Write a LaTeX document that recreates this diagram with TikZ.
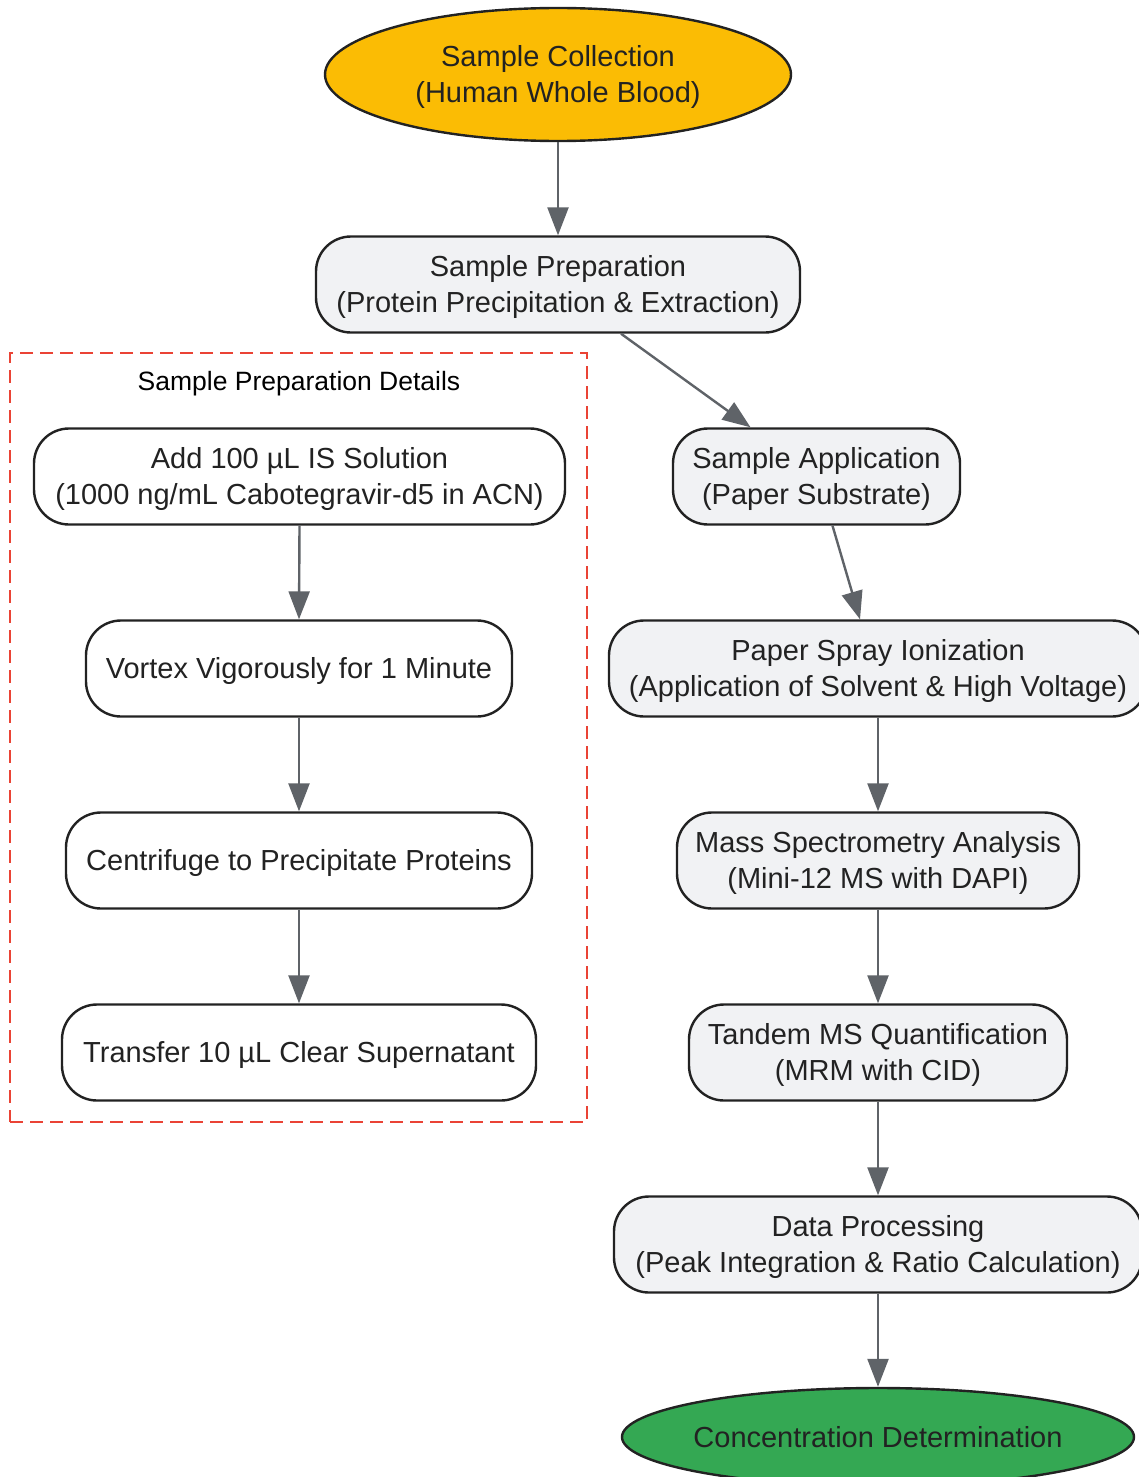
\documentclass[tikz,border=0pt]{standalone}
\usepackage{fontspec}
\setmainfont{Liberation Sans}
\usetikzlibrary{arrows.meta,shapes.geometric,calc}
\definecolor{ygold}{HTML}{FBBC04}
\definecolor{ggreen}{HTML}{34A853}
\definecolor{boxfill}{HTML}{F1F2F4}
\definecolor{edgegray}{HTML}{5F6368}
\definecolor{txt}{HTML}{222222}
\definecolor{dashred}{HTML}{EA4335}
\newcommand{\toplift}{\rule{0pt}{26.5pt}}
\tikzset{
  base/.style={draw=txt, line width=2.4pt, text=txt, inner sep=0pt, align=center,
    font=\fontsize{29}{36}\selectfont},
  lowered/.style={execute at begin node={\toplift}},
  procbox/.style={base, rectangle, rounded corners=35pt, fill=boxfill, minimum height=96pt},
  detailbox/.style={base, rectangle, rounded corners=35pt, fill=white, minimum height=96pt},
  terminal/.style={base, ellipse},
  flow/.style={draw=edgegray, line width=2.4pt, -{Triangle[length=28pt,width=21pt]}},
  grouplabel/.style={font=\fontsize{26.5}{32}\selectfont, text=black, inner sep=0pt}
}
\begin{document}
\begin{tikzpicture}[x=1pt,y=-1pt]
\useasboundingbox (0,0) rectangle (1139,1477);
\clip (0,0) rectangle (1139,1477);
\fill[white] (0,0) rectangle (1139,1477);
% group frame
\node[draw=dashred, line width=2.6pt, dash pattern=on 13pt off 7pt, minimum width=577pt, minimum height=769pt, inner sep=0pt] (grp) at (298.5,737.5) {};
\node[grouplabel] (grplabel) at (299,383.5) {Sample Preparation Details};
% main flow
\node[terminal, fill=ygold, minimum width=466pt, minimum height=133pt] (coll) at (558,74.5) {\toplift Sample Collection\\(Human Whole Blood)};
\node[procbox, minimum width=484pt] (prep) at (558,284.5) {\toplift Sample Preparation\\(Protein Precipitation \& Extraction)};
\node[procbox, minimum width=287pt] (app) at (816.5,476.5) {\toplift Sample Application\\(Paper Substrate)};
\node[procbox, minimum width=538pt] (spray) at (878,668.5) {\toplift Paper Spray Ionization\\(Application of Solvent \& High Voltage)};
\node[procbox, minimum width=402pt] (ms) at (878,860.5) {\toplift Mass Spectrometry Analysis\\(Mini-12 MS with DAPI)};
\node[procbox, minimum width=378pt] (tandem) at (878,1052.5) {\toplift Tandem MS Quantification\\(MRM with CID)};
\node[procbox, minimum width=528pt] (data) at (878,1244.5) {\toplift Data Processing\\(Peak Integration \& Ratio Calculation)};
\node[terminal, fill=ggreen, inner xsep=-5pt, minimum width=512pt, minimum height=98pt] (conc) at (878,1437) {Concentration Determination};
% detail flow
\node[detailbox, minimum width=531pt] (add) at (299.5,476.5) {\toplift Add 100 µL IS Solution\\(1000 ng/mL Cabotegravir-d5 in ACN)};
\node[detailbox, lowered, minimum width=426pt] (vortex) at (299,668.5) {Vortex Vigorously for 1 Minute};
\node[detailbox, lowered, minimum width=466pt] (centr) at (299,860.5) {Centrifuge to Precipitate Proteins};
\node[detailbox, lowered, minimum width=474pt] (transfer) at (299,1052.5) {Transfer 10 µL Clear Supernatant};
% connectors
\draw[flow] (coll.south) -- (prep.north);
\draw[flow] ($(prep.south)+(63,0)$) -- ($(app.north)+(-66,0)$);
\draw[flow] ($(app.south)+(16,0)$) -- ($(spray.north)+(-18,0)$);
\draw[flow] (spray.south) -- (ms.north);
\draw[flow] (ms.south) -- (tandem.north);
\draw[flow] (tandem.south) -- (data.north);
\draw[flow] (data.south) -- (conc.north);
\draw[flow] (add.south) -- (vortex.north);
\draw[flow] (vortex.south) -- (centr.north);
\draw[flow] (centr.south) -- (transfer.north);
\end{tikzpicture}
\end{document}
